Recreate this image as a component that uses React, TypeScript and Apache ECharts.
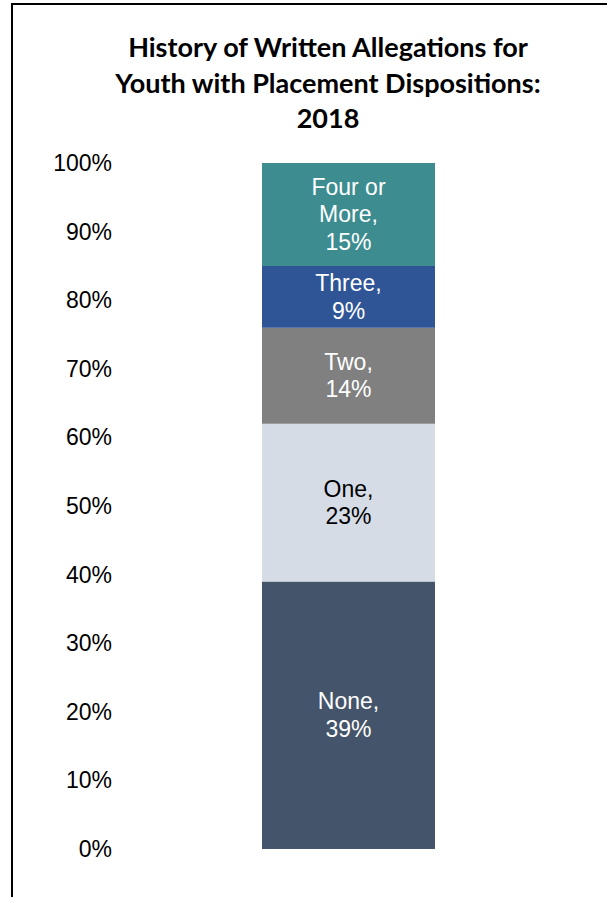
import React, { useEffect, useRef } from "react";
import * as echarts from "echarts";

const categories = ["2018"];
const seriesNames = ["None", "One", "Two", "Three", "Four or\nMore"];
const seriesValues = [39, 23, 14, 9, 15];
const seriesColors = ["#44546A", "#D6DCE5", "#808080", "#2F5597", "#3C8C90"];
const labelColors = ["#FFFFFF", "#000000", "#FFFFFF", "#FFFFFF", "#FFFFFF"];
const titleText = "History of Written Allegations for\nYouth with Placement Dispositions:\n2018";

export default function App() {
  const ref = useRef<HTMLDivElement>(null);
  useEffect(() => {
    if (!ref.current) return;
    const chart = echarts.init(ref.current, null, { renderer: "svg" });
    chart.setOption({
      animation: false,
      backgroundColor: "#FFFFFF",
      title: {
        text: titleText,
        left: 328,
        top: 29,
        padding: 0,
        textAlign: "center",
        textStyle: {
          fontFamily: "Lato",
          fontWeight: "bold",
          fontSize: 27,
          lineHeight: 35.5,
          color: "#000000",
        },
      },
      graphic: [
        { type: "line", shape: { x1: 12, y1: 4, x2: 12, y2: 897 }, style: { stroke: "#000", lineWidth: 2 } },
        { type: "line", shape: { x1: 11, y1: 4, x2: 607, y2: 4 }, style: { stroke: "#000", lineWidth: 2 } },
      ],
      grid: { left: 120, right: 30, top: 163, bottom: 48 },
      xAxis: {
        type: "category",
        data: categories,
        show: false,
      },
      yAxis: {
        type: "value",
        min: 0,
        max: 100,
        interval: 10,
        axisLine: { show: false },
        axisTick: { show: false },
        splitLine: { show: false },
        axisLabel: {
          formatter: "{value}%",
          fontFamily: "Liberation Sans",
          fontSize: 23,
          color: "#000000",
          margin: 8,
        },
      },
      series: seriesNames.map((name, i) => ({
        type: "bar",
        name,
        stack: "total",
        barWidth: 173,
        data: [seriesValues[i]],
        itemStyle: { color: seriesColors[i] },
        label: {
          show: true,
          position: "inside",
          formatter: (p: any) => `${p.seriesName},\n${p.value}%`,
          fontFamily: "Liberation Sans",
          fontSize: 23,
          lineHeight: 27.5,
          color: labelColors[i],
          align: "center",
        },
      })),
    });
    return () => chart.dispose();
  }, []);
  return (
    <div
      ref={ref}
      style={{ position: "fixed", left: 0, top: 0, width: 607, height: 897 }}
    />
  );
}
